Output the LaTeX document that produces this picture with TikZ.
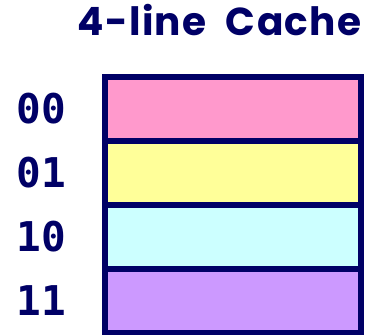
\documentclass[tikz,border=0pt]{standalone}
\usepackage{fontspec}
\setmainfont{Poppins}
\newfontfamily\titlefont[LetterSpace=3.5,WordSpace=2]{Poppins}
\newfontfamily\tagfont{DejaVu Sans Mono}
\usetikzlibrary{positioning}
\definecolor{navy}{RGB}{0,0,102}
\definecolor{linepink}{RGB}{255,153,204}
\definecolor{lineyellow}{RGB}{255,255,153}
\definecolor{linecyan}{RGB}{204,255,255}
\definecolor{linepurple}{RGB}{204,153,255}

\begin{document}
\begin{tikzpicture}[
    x=1pt, y=-1pt,
    node distance=0pt,
    cacheline/.style={rectangle, draw=navy, line width=6pt, outer sep=0pt, inner sep=0pt, minimum width=256pt, minimum height=64pt},
    tag/.style={font=\tagfont\bfseries\fontsize{41}{41}\selectfont, text=navy, inner sep=0pt},
    title/.style={font=\titlefont\bfseries\fontsize{39}{39}\selectfont, text=navy, inner sep=0pt, anchor=base},
  ]
    \useasboundingbox (0,0) rectangle (371,334);
    \node[title] (T) at (219.5,36) {4-line Cache};
    % the four lines of the cache, stacked
    \node[cacheline, fill=linepink] (L00) at (233,109) {};
    \node[cacheline, fill=lineyellow, below=of L00] (L01) {};
    \node[cacheline, fill=linecyan, below=of L01] (L10) {};
    \node[cacheline, fill=linepurple, below=of L10] (L11) {};
    % index of each line
    \node[tag] (K00) at (41.5,0 |- L00) {00};
    \node[tag] (K01) at (41.5,0 |- L01) {01};
    \node[tag] (K10) at (41.5,0 |- L10) {10};
    \node[tag] (K11) at (41.5,0 |- L11) {11};
  \end{tikzpicture}
\end{document}
